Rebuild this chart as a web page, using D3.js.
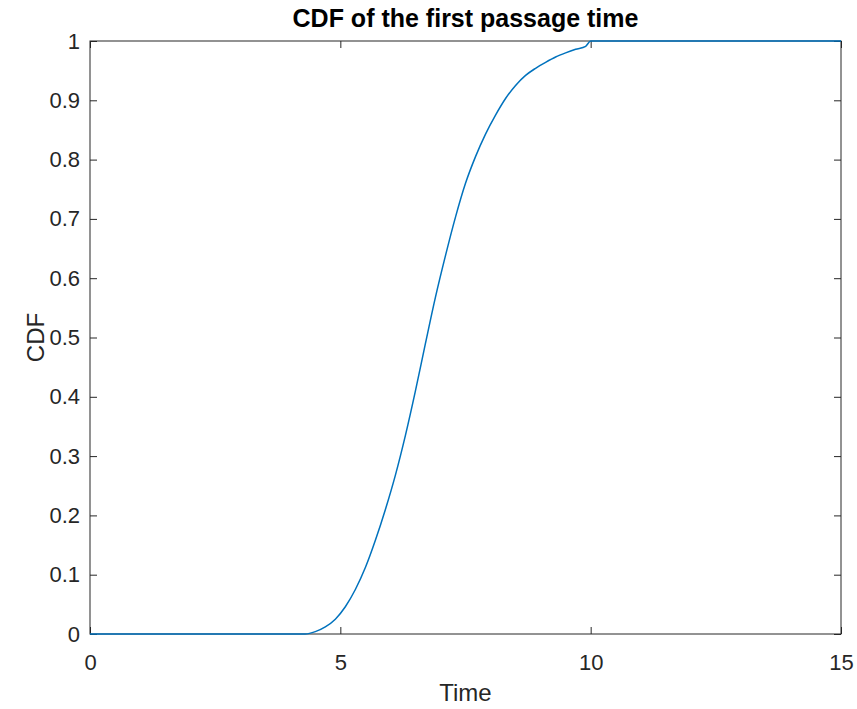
<!DOCTYPE html>
<html>
<head>
<meta charset="utf-8">
<script src="https://cdn.jsdelivr.net/npm/d3@7"></script>
<style>
	body { margin: 0; background: #ffffff; }
	text { font-family: "Liberation Sans", Arial, sans-serif; fill: #262626; }
</style>
</head>
<body>
<div id="chart"></div>
<script>
// Data
var timeValues = [0, 4.3, 4.5, 4.7, 4.9, 5.1, 5.3, 5.5, 5.7, 5.9, 6.1, 6.3, 6.5, 6.7, 6.9,
	7.1, 7.3, 7.5, 7.7, 7.9, 8.1, 8.3, 8.5, 8.7, 8.9, 9.1, 9.3, 9.5, 9.7, 9.9, 10, 15];
var cdfValues = [0, 0, 0.004, 0.012, 0.025, 0.046, 0.075, 0.112, 0.158, 0.21, 0.268, 0.335, 0.41, 0.49, 0.568,
	0.638, 0.703, 0.76, 0.805, 0.843, 0.875, 0.903, 0.925, 0.942, 0.954, 0.964, 0.973, 0.98, 0.986, 0.991, 1, 1];
var xTicks = [0, 5, 10, 15];
var yTicks = [0, 0.1, 0.2, 0.3, 0.4, 0.5, 0.6, 0.7, 0.8, 0.9, 1];

// Basic sizes (plot box edges)
var width = 857,
	height = 709,
	plotLeft = 90,
	plotRight = 841,
	plotTop = 41,
	plotBottom = 634,
	tickLen = 7;

var svg = d3.select("#chart")
	.append("svg")
	.attr("width", width)
	.attr("height", height);

var x = d3.scaleLinear().domain([0, 15]).range([plotLeft, plotRight]);
var y = d3.scaleLinear().domain([0, 1]).range([plotBottom, plotTop]);

// Box around the plot
svg.append("rect")
	.attr("x", plotLeft)
	.attr("y", plotTop)
	.attr("width", plotRight - plotLeft)
	.attr("height", plotBottom - plotTop)
	.style("fill", "none")
	.style("stroke", "#262626")
	.style("stroke-width", 1);

// Axes, ticks pointing inwards on all four sides
svg.append("g")
	.attr("transform", "translate(0," + plotBottom + ")")
	.call(d3.axisBottom(x).tickValues(xTicks).tickSizeInner(-tickLen).tickSizeOuter(0).tickPadding(20));

svg.append("g")
	.attr("transform", "translate(0," + plotTop + ")")
	.call(d3.axisTop(x).tickValues(xTicks).tickSizeInner(-tickLen).tickSizeOuter(0).tickFormat(""));

svg.append("g")
	.attr("transform", "translate(" + plotLeft + ",0)")
	.call(d3.axisLeft(y).tickValues(yTicks).tickSizeInner(-tickLen).tickSizeOuter(0).tickPadding(10)
		.tickFormat(function(d) { return d3.format("~g")(d); }));

svg.append("g")
	.attr("transform", "translate(" + plotRight + ",0)")
	.call(d3.axisRight(y).tickValues(yTicks).tickSizeInner(-tickLen).tickSizeOuter(0).tickFormat(""));

svg.selectAll(".domain").remove();
svg.selectAll(".tick line").style("stroke", "#262626").style("stroke-width", 1);
svg.selectAll(".tick text")
	.style("font-size", "22px")
	.style("fill", "#262626")
	.style("font-family", "'Liberation Sans', Arial, sans-serif");

// Curve
var line = d3.line()
	.x(function(d, i) { return x(timeValues[i]); })
	.y(function(d) { return y(d); })
	.curve(d3.curveMonotoneX);

svg.append("path")
	.datum(cdfValues)
	.attr("d", line)
	.style("fill", "none")
	.style("stroke", "#0072BD")
	.style("stroke-width", 1.5);

// Title and labels
svg.append("text")
	.attr("x", (plotLeft + plotRight) / 2)
	.attr("y", 27)
	.attr("text-anchor", "middle")
	.style("font-size", "25px")
	.style("font-weight", "bold")
	.style("fill", "#000000")
	.text("CDF of the first passage time");

svg.append("text")
	.attr("x", (plotLeft + plotRight) / 2)
	.attr("y", 701)
	.attr("text-anchor", "middle")
	.style("font-size", "24px")
	.text("Time");

svg.append("text")
	.attr("transform", "translate(44," + (plotTop + plotBottom) / 2 + ") rotate(-90)")
	.attr("text-anchor", "middle")
	.style("font-size", "24px")
	.text("CDF");
</script>
</body>
</html>
